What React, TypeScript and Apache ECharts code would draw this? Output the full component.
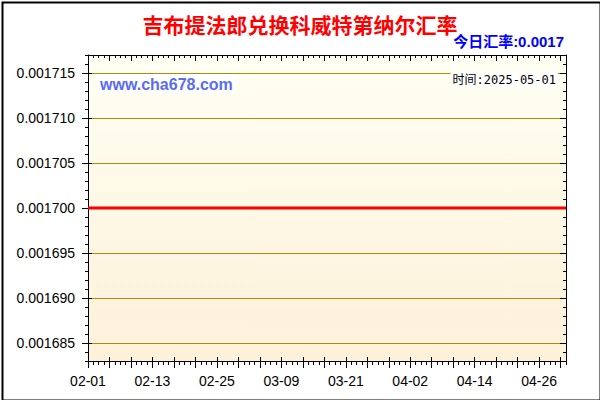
import { useEffect, useRef } from 'react'
import * as echarts from 'echarts'

// 日期（2025-02-01 ~ 2025-05-01，按日）
const dates = [
  '02-01', '02-02', '02-03', '02-04', '02-05', '02-06', '02-07', '02-08', '02-09', '02-10',
  '02-11', '02-12', '02-13', '02-14', '02-15', '02-16', '02-17', '02-18', '02-19', '02-20',
  '02-21', '02-22', '02-23', '02-24', '02-25', '02-26', '02-27', '02-28', '03-01', '03-02',
  '03-03', '03-04', '03-05', '03-06', '03-07', '03-08', '03-09', '03-10', '03-11', '03-12',
  '03-13', '03-14', '03-15', '03-16', '03-17', '03-18', '03-19', '03-20', '03-21', '03-22',
  '03-23', '03-24', '03-25', '03-26', '03-27', '03-28', '03-29', '03-30', '03-31', '04-01',
  '04-02', '04-03', '04-04', '04-05', '04-06', '04-07', '04-08', '04-09', '04-10', '04-11',
  '04-12', '04-13', '04-14', '04-15', '04-16', '04-17', '04-18', '04-19', '04-20', '04-21',
  '04-22', '04-23', '04-24', '04-25', '04-26', '04-27', '04-28', '04-29', '04-30', '05-01',
]

// 汇率
const rates = [
  0.0017, 0.0017, 0.0017, 0.0017, 0.0017, 0.0017, 0.0017, 0.0017, 0.0017, 0.0017,
  0.0017, 0.0017, 0.0017, 0.0017, 0.0017, 0.0017, 0.0017, 0.0017, 0.0017, 0.0017,
  0.0017, 0.0017, 0.0017, 0.0017, 0.0017, 0.0017, 0.0017, 0.0017, 0.0017, 0.0017,
  0.0017, 0.0017, 0.0017, 0.0017, 0.0017, 0.0017, 0.0017, 0.0017, 0.0017, 0.0017,
  0.0017, 0.0017, 0.0017, 0.0017, 0.0017, 0.0017, 0.0017, 0.0017, 0.0017, 0.0017,
  0.0017, 0.0017, 0.0017, 0.0017, 0.0017, 0.0017, 0.0017, 0.0017, 0.0017, 0.0017,
  0.0017, 0.0017, 0.0017, 0.0017, 0.0017, 0.0017, 0.0017, 0.0017, 0.0017, 0.0017,
  0.0017, 0.0017, 0.0017, 0.0017, 0.0017, 0.0017, 0.0017, 0.0017, 0.0017, 0.0017,
  0.0017, 0.0017, 0.0017, 0.0017, 0.0017, 0.0017, 0.0017, 0.0017, 0.0017, 0.0017,
]

const title = '吉布提法郎兑换科威特第纳尔汇率'
const todayRate = '今日汇率:0.0017'
const siteText = 'www.cha678.com'
const timeText = '时间:2025-05-01'

const yMin = 0.001683
const yMax = 0.001717

const GOLD = '#b8860b'
const LABEL_FONT = '"Liberation Sans", Arial, sans-serif'
const CJK_FONT = '"Noto Sans CJK SC", sans-serif'

export default function App() {
  const containerRef = useRef<HTMLDivElement>(null)

  useEffect(() => {
    if (!containerRef.current) return
    document.body.style.margin = '0'

    const chart = echarts.init(containerRef.current, undefined, { renderer: 'svg' })

    // x 轴：主轴（日刻度+标签）+ 每 4 天的长刻度 + 顶部刻度
    const xBase = {
      type: 'category' as const,
      data: dates,
      boundaryGap: false,
      axisLine: { show: false },
      axisLabel: { show: false },
      splitLine: { show: false },
    }

    // y 轴共用设置
    const yBase = {
      type: 'value' as const,
      min: yMin,
      max: yMax,
      axisLine: { show: false },
      axisLabel: { show: false },
      splitLine: { show: false },
    }

    const option: echarts.EChartsOption = {
      animation: false,
      backgroundColor: '#fff',
      title: {
        text: title,
        left: 'center',
        top: 8,
        textStyle: { color: '#ff0000', fontSize: 21, fontWeight: 'bold', fontFamily: CJK_FONT },
      },
      grid: {
        left: 88,
        right: 34,
        top: 55,
        bottom: 39,
        show: true,
        borderWidth: 0,
        backgroundColor: new echarts.graphic.LinearGradient(0, 0, 0, 1, [
          { offset: 0, color: '#fffff3' },
          { offset: 1, color: '#fdf1d9' },
        ]),
      },
      xAxis: [
        {
          ...xBase,
          position: 'bottom',
          axisLine: { show: true, lineStyle: { color: '#000', width: 1 } },
          axisTick: { show: true, interval: 0, length: 4, lineStyle: { color: '#000' } },
          axisLabel: {
            show: true,
            interval: 11,
            margin: 13,
            color: '#000',
            fontSize: 14,
            fontFamily: LABEL_FONT,
          },
        },
        {
          ...xBase,
          position: 'bottom',
          axisTick: { show: true, interval: 3, length: 7, lineStyle: { color: '#000' } },
        },
        {
          ...xBase,
          position: 'bottom',
          axisTick: { show: true, interval: 3, inside: true, length: 4, lineStyle: { color: '#000' } },
        },
        {
          ...xBase,
          position: 'top',
          axisLine: { show: true, lineStyle: { color: '#000', width: 1 } },
          axisTick: { show: true, interval: 0, inside: true, length: 3, lineStyle: { color: '#000' } },
        },
        {
          ...xBase,
          position: 'top',
          axisTick: { show: true, interval: 3, inside: true, length: 6, lineStyle: { color: '#000' } },
        },
      ],
      yAxis: [
        {
          ...yBase,
          position: 'left',
          splitNumber: 7,
          axisLine: { show: true, lineStyle: { color: '#000', width: 1 } },
          axisTick: { show: true, length: 6, lineStyle: { color: '#000' } },
          axisLabel: {
            show: true,
            showMinLabel: false,
            showMaxLabel: false,
            margin: 13,
            color: '#000',
            fontSize: 14,
            fontFamily: LABEL_FONT,
            formatter: (v: number) => v.toFixed(6),
          },
          splitLine: { show: true, lineStyle: { color: GOLD, width: 1 } },
        },
        {
          ...yBase,
          position: 'left',
          interval: 0.000001,
          axisTick: { show: true, length: 3, lineStyle: { color: '#000' } },
        },
        {
          ...yBase,
          position: 'left',
          splitNumber: 7,
          axisTick: { show: true, inside: true, length: 4, lineStyle: { color: '#000' } },
        },
        {
          ...yBase,
          position: 'right',
          splitNumber: 7,
          axisLine: { show: true, lineStyle: { color: '#000', width: 1 } },
          axisTick: { show: true, inside: true, length: 6, lineStyle: { color: '#000' } },
        },
        {
          ...yBase,
          position: 'right',
          interval: 0.000001,
          axisTick: { show: true, inside: true, length: 3, lineStyle: { color: '#000' } },
        },
      ],
      series: [
        {
          type: 'line',
          name: '汇率',
          data: rates,
          xAxisIndex: 0,
          yAxisIndex: 0,
          symbol: 'none',
          lineStyle: { color: '#ff0000', width: 3 },
          z: 5,
        },
      ],
      graphic: [
        {
          type: 'text',
          right: 36,
          top: 34,
          z: 10,
          style: {
            text: todayRate,
            fill: '#0000ff',
            font: `bold 15px ${LABEL_FONT.replace(', sans-serif', '')}, ${CJK_FONT}`,
          },
        },
        {
          type: 'text',
          left: 97,
          top: 74,
          z: 10,
          style: {
            text: siteText,
            fill: '#5a6cf0',
            font: `bold 16px ${LABEL_FONT}`,
            backgroundColor: '#fff',
            padding: [2, 3, 2, 3],
          },
        },
        {
          type: 'text',
          right: 42,
          top: 72,
          z: 10,
          style: {
            text: timeText,
            fill: '#000',
            font: `12px "DejaVu Sans Mono", ${CJK_FONT}`,
            backgroundColor: '#fff',
            padding: [2, 2, 2, 2],
          },
        },
        {
          type: 'rect',
          left: 0,
          top: 0,
          z: 20,
          shape: { x: 1, y: 1, width: 598, height: 398 },
          style: { fill: 'none', stroke: '#000', lineWidth: 2 },
        },
      ],
    }

    chart.setOption(option)

    return () => {
      chart.dispose()
    }
  }, [])

  return <div ref={containerRef} style={{ width: 600, height: 400 }} />
}
